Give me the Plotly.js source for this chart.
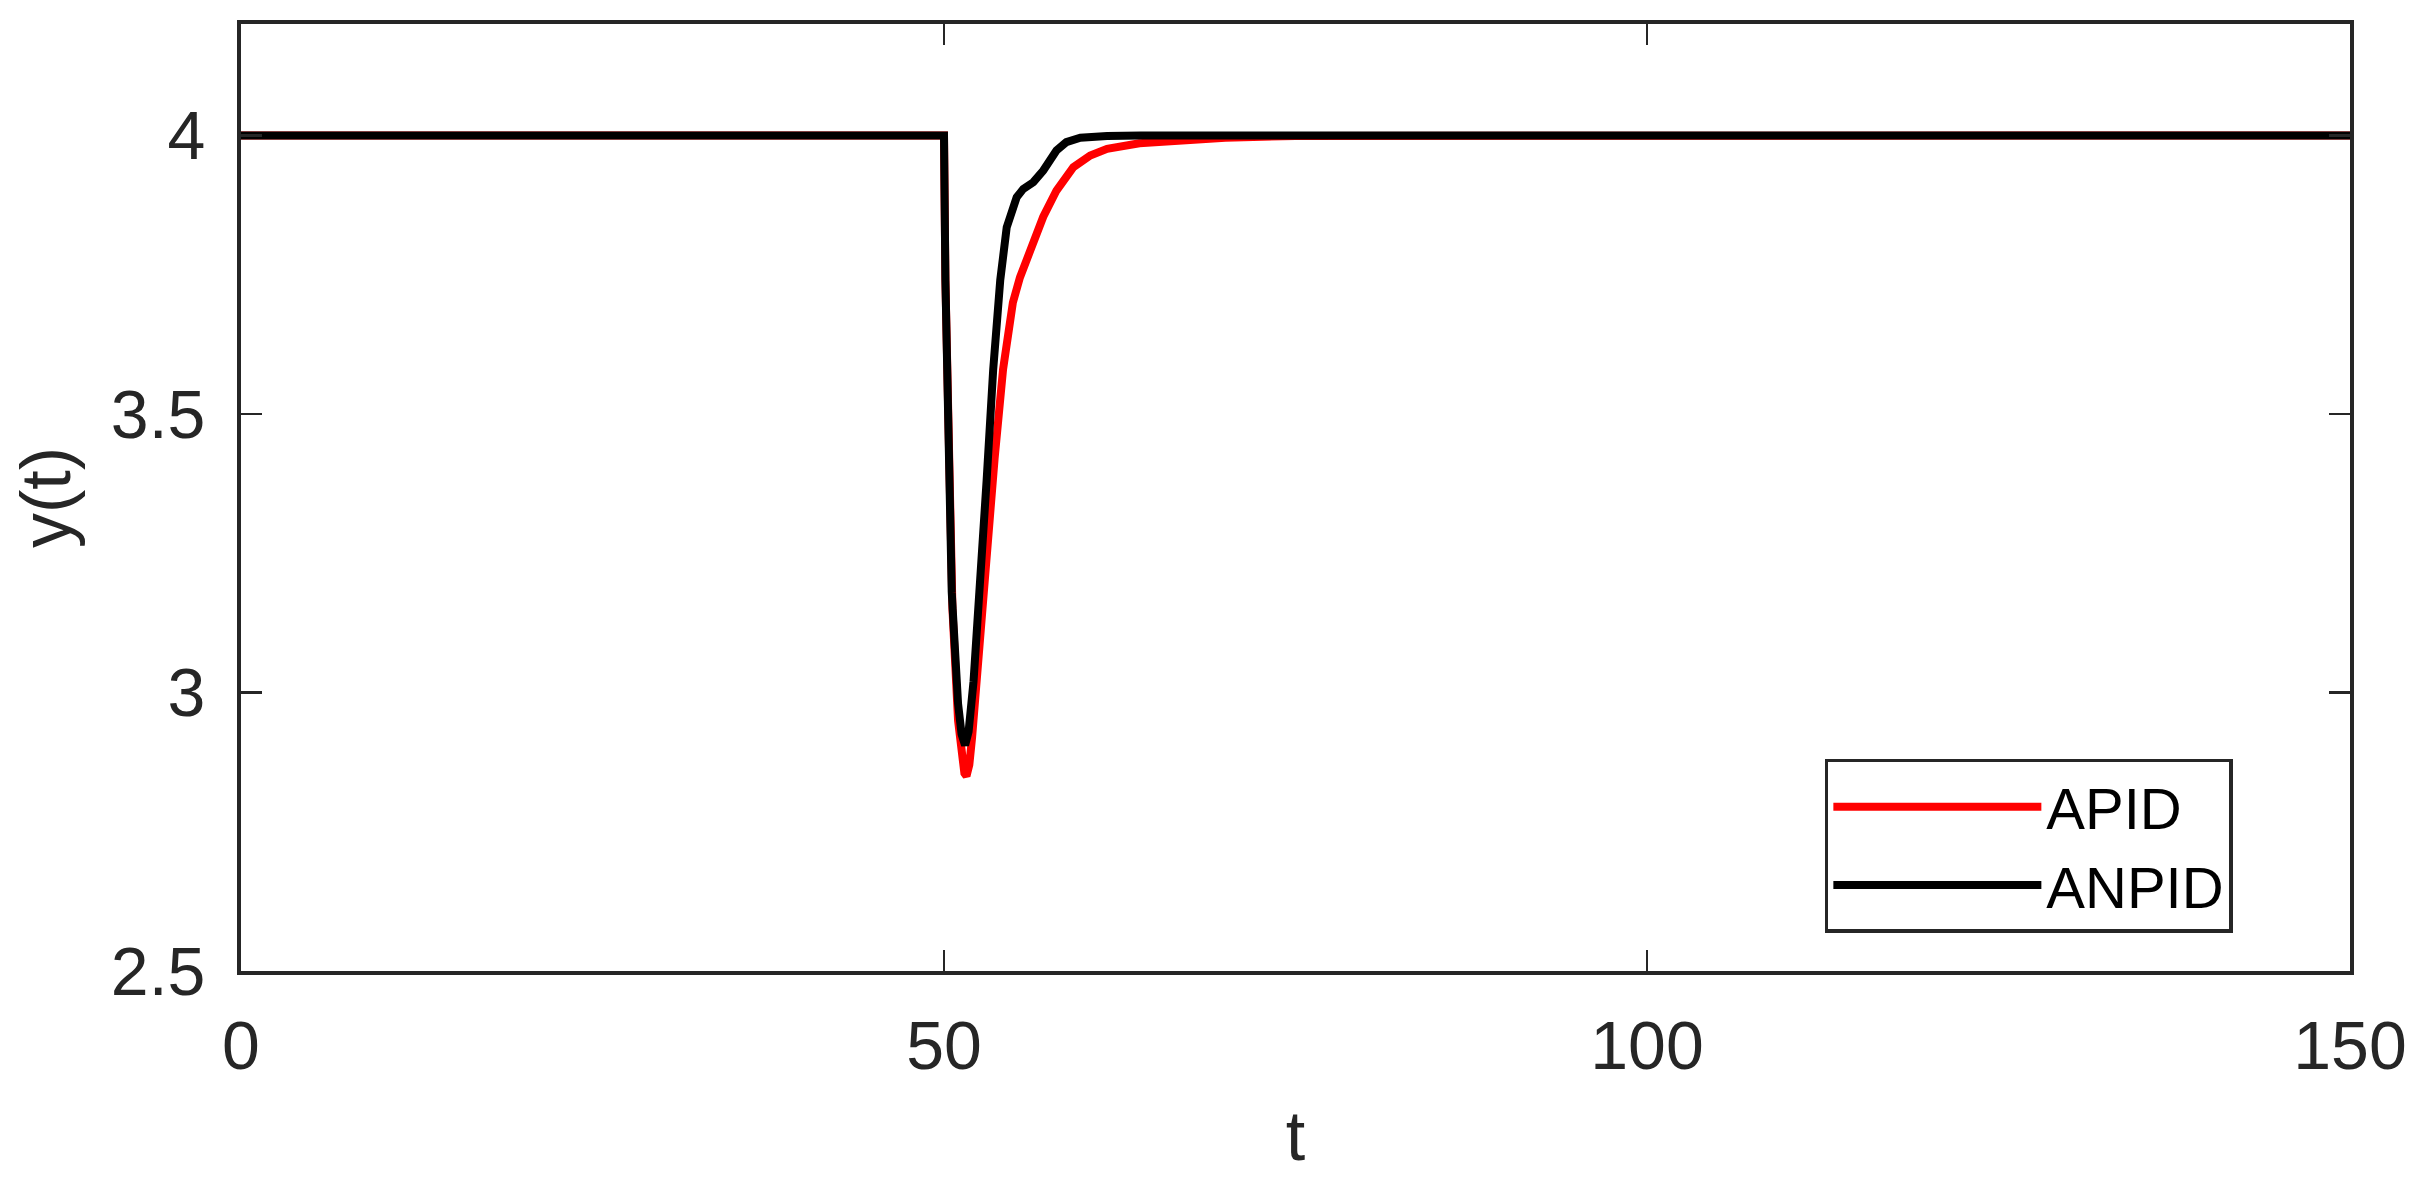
<!DOCTYPE html>
<html>
<head>
<meta charset="utf-8">
<script src="https://cdn.plot.ly/plotly-3.0.1.min.js"></script>
<style>
  html, body { margin: 0; padding: 0; background: #ffffff; }
  #chart { width: 2419px; height: 1195px; }
</style>
</head>
<body>
<div id="chart"></div>
<script>
// Series names
const seriesNames = ["APID", "ANPID"];

// APID (red) response
const tApid = [0, 50, 50.1, 50.3, 50.6, 51.0, 51.3, 51.45, 51.6, 51.8, 52.0, 52.3, 53.0, 53.6, 54.2, 54.9, 55.4, 55.9, 56.5, 57.06, 58.0, 59.2, 60.4, 61.6, 63.9, 66.3, 70, 75, 150];
const yApid = [4, 4, 3.74, 3.42, 3.15, 2.95, 2.875, 2.855, 2.85, 2.87, 2.92, 3.02, 3.26, 3.42, 3.58, 3.70, 3.745, 3.778, 3.820, 3.854, 3.901, 3.943, 3.964, 3.976, 3.986, 3.991, 3.996, 3.999, 4];

// ANPID (black) response
const tAnpid = [0, 50, 50.1, 50.3, 50.55, 51.0, 51.25, 51.5, 51.75, 52.1, 52.56, 53.03, 53.5, 54.0, 54.46, 54.8, 55.17, 55.64, 56.35, 57.06, 58.0, 58.7, 59.7, 61.6, 64, 150];
const yAnpid = [4, 4, 3.74, 3.42, 3.18, 2.98, 2.925, 2.905, 2.93, 3.02, 3.18, 3.38, 3.58, 3.74, 3.835, 3.860, 3.889, 3.904, 3.916, 3.937, 3.973, 3.988, 3.996, 3.999, 4, 4];

// Axis ticks
const xTicks = [0, 50, 100, 150];
const xTickText = ["0", "50", "100", "150"];
const yTicks = [2.5, 3, 3.5, 4];
const yTickText = ["2.5", "3", "3.5", "4"];

const axisColor = "#262626";
const fontFamily = "'Liberation Sans', Arial, Helvetica, sans-serif";

const traces = [
  { x: tApid, y: yApid, mode: "lines", name: seriesNames[0],
    line: { color: "#ff0000", width: 8 } },
  { x: tAnpid, y: yAnpid, mode: "lines", name: seriesNames[1],
    line: { color: "#000000", width: 8 } }
];

const layout = {
  width: 2419, height: 1195,
  margin: { l: 241, r: 69, t: 24, b: 224 },
  paper_bgcolor: "#ffffff", plot_bgcolor: "#ffffff",
  font: { family: fontFamily, color: axisColor, size: 68 },
  showlegend: true,
  legend: {
    x: 0.751, y: 0.2239, xanchor: "left", yanchor: "top",
    bgcolor: "#ffffff", bordercolor: axisColor, borderwidth: 3.5,
    font: { family: fontFamily, size: 58, color: "#000000" },
    itemwidth: 208
  },
  xaxis: {
    range: [0, 150], tickvals: xTicks, ticktext: xTickText,
    ticks: "inside", ticklen: 21, tickwidth: 2.5, tickcolor: axisColor,
    showline: true, linecolor: axisColor, linewidth: 4, mirror: "ticks",
    showgrid: false, zeroline: false, ticklabelstandoff: 12,
    tickfont: { size: 68, color: axisColor },
    title: { text: "t", font: { size: 70, color: axisColor }, standoff: 30 }
  },
  yaxis: {
    range: [2.5, 4.2], tickvals: yTicks, ticktext: yTickText,
    ticks: "inside", ticklen: 21, tickwidth: 2.5, tickcolor: axisColor,
    showline: true, linecolor: axisColor, linewidth: 4, mirror: "ticks",
    showgrid: false, zeroline: false, ticklabelstandoff: 18,
    tickfont: { size: 68, color: axisColor },
    title: { text: "y(t)", font: { size: 70, color: axisColor }, standoff: 18 }
  }
};

Plotly.newPlot("chart", traces, layout, { displayModeBar: false, staticPlot: true });
</script>
</body>
</html>
